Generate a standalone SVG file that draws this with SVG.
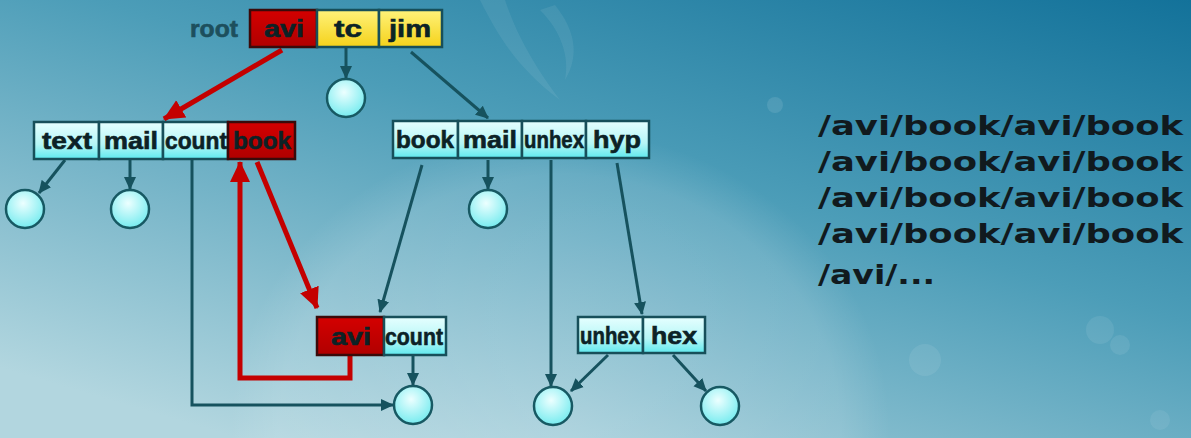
<svg xmlns="http://www.w3.org/2000/svg" width="1191" height="438" viewBox="0 0 1191 438">
<defs>
  <linearGradient id="bg" x1="1" y1="0" x2="0.2" y2="1">
    <stop offset="0" stop-color="#13729a"/>
    <stop offset="0.45" stop-color="#4c9db8"/>
    <stop offset="1" stop-color="#b2d6df"/>
  </linearGradient>
  <radialGradient id="glow" cx="0.5" cy="0.5" r="0.5">
    <stop offset="0" stop-color="#ffffff" stop-opacity="0.22"/>
    <stop offset="0.85" stop-color="#ffffff" stop-opacity="0.12"/>
    <stop offset="1" stop-color="#ffffff" stop-opacity="0"/>
  </radialGradient>
  <linearGradient id="cyan" x1="0" y1="0" x2="0" y2="1">
    <stop offset="0" stop-color="#e6ffff"/>
    <stop offset="0.6" stop-color="#b6f6f6"/>
    <stop offset="1" stop-color="#5fe9ee"/>
  </linearGradient>
  <linearGradient id="red" x1="0" y1="0" x2="0" y2="1">
    <stop offset="0" stop-color="#d40000"/>
    <stop offset="1" stop-color="#b00000"/>
  </linearGradient>
  <linearGradient id="yellow" x1="0" y1="0" x2="0" y2="1">
    <stop offset="0" stop-color="#fff27a"/>
    <stop offset="1" stop-color="#f5d21a"/>
  </linearGradient>
  <radialGradient id="ball" cx="0.45" cy="0.35" r="0.7">
    <stop offset="0" stop-color="#ecffff"/>
    <stop offset="1" stop-color="#6eeaee"/>
  </radialGradient>
  <marker id="ab" markerUnits="userSpaceOnUse" markerWidth="14" markerHeight="14" refX="12" refY="7" orient="auto">
    <path d="M0,1 L13,7 L0,13 z" fill="#16525e"/>
  </marker>
  <marker id="ar" markerUnits="userSpaceOnUse" markerWidth="22" markerHeight="22" refX="20" refY="11" orient="auto">
    <path d="M0,1 L21,11 L0,21 z" fill="#c40000"/>
  </marker>
</defs>
<style>
  .cell { stroke:#174f5a; stroke-width:2.5; }
  .c { fill:url(#cyan); }
  .r { fill:url(#red); stroke:#3a0a0a; }
  .y { fill:url(#yellow); }
  .lbl { font-family:"Liberation Sans", Arial, sans-serif; font-weight:bold; font-size:24px; fill:#0c2226; text-anchor:middle; stroke:#0c2226; stroke-width:0.6; }
  .ball { fill:url(#ball); stroke:#175963; stroke-width:2.5; }
  .bl { fill:none; stroke:#16525e; stroke-width:3; }
  .rd { fill:none; stroke:#c40000; stroke-width:5; }
  .path { font-family:"DejaVu Sans", Verdana, sans-serif; font-weight:bold; font-size:27px; fill:#111a1e; }
</style>

<rect width="1191" height="438" fill="url(#bg)"/>
<ellipse cx="560" cy="430" rx="330" ry="300" fill="url(#glow)"/>
<path d="M480,0 C500,40 520,70 560,100 C530,60 515,30 505,0 z" fill="#ffffff" fill-opacity="0.07"/>
<path d="M540,10 C560,30 570,55 565,80 C580,55 575,30 555,5 z" fill="#ffffff" fill-opacity="0.07"/>
<circle cx="775" cy="105" r="8" fill="#ffffff" fill-opacity="0.1"/>
<circle cx="1100" cy="330" r="14" fill="#ffffff" fill-opacity="0.08"/>
<circle cx="1120" cy="345" r="10" fill="#ffffff" fill-opacity="0.08"/>
<circle cx="925" cy="360" r="16" fill="#ffffff" fill-opacity="0.08"/>
<circle cx="1160" cy="420" r="10" fill="#ffffff" fill-opacity="0.07"/>

<g id="connectors">
  <line class="bl" x1="346" y1="48" x2="346" y2="78" marker-end="url(#ab)"/>
  <line class="bl" x1="411" y1="52" x2="488" y2="118" marker-end="url(#ab)"/>
  <line class="bl" x1="65" y1="160" x2="39" y2="193" marker-end="url(#ab)"/>
  <line class="bl" x1="130" y1="160" x2="130" y2="189" marker-end="url(#ab)"/>
  <polyline class="bl" points="192,160 192,405 393,405" marker-end="url(#ab)"/>
  <line class="bl" x1="413" y1="356" x2="413" y2="385" marker-end="url(#ab)"/>
  <line class="bl" x1="422" y1="165" x2="380" y2="312" marker-end="url(#ab)"/>
  <line class="bl" x1="488" y1="160" x2="488" y2="189" marker-end="url(#ab)"/>
  <line class="bl" x1="551" y1="160" x2="551" y2="386" marker-end="url(#ab)"/>
  <line class="bl" x1="617" y1="163" x2="642" y2="314" marker-end="url(#ab)"/>
  <line class="bl" x1="608" y1="355" x2="571" y2="391" marker-end="url(#ab)"/>
  <line class="bl" x1="673" y1="355" x2="706" y2="391" marker-end="url(#ab)"/>
  <line class="rd" x1="282" y1="50" x2="164" y2="119" marker-end="url(#ar)"/>
  <line class="rd" x1="257" y1="162" x2="317" y2="308" marker-end="url(#ar)"/>
  <polyline class="rd" points="350,356 350,378 240,378 240,162" marker-end="url(#ar)"/>
</g>

<g id="root">
  <text x="214" y="37" textLength="48" lengthAdjust="spacingAndGlyphs" style="font-family:'Liberation Sans', Arial, sans-serif; font-weight:bold; font-size:23px; fill:#1d4f5d; stroke:#1d4f5d; stroke-width:0.6; text-anchor:middle;">root</text>
  <rect class="cell r" x="250" y="10" width="67" height="37"/>
  <rect class="cell y" x="317" y="10" width="62" height="37"/>
  <rect class="cell y" x="379" y="10" width="63" height="37"/>
  <text class="lbl" x="284" y="37" textLength="40" lengthAdjust="spacingAndGlyphs">avi</text>
  <text class="lbl" x="348" y="37" textLength="28" lengthAdjust="spacingAndGlyphs">tc</text>
  <text class="lbl" x="410" y="37" textLength="42" lengthAdjust="spacingAndGlyphs">jim</text>
</g>

<g id="node-left">
  <rect class="cell c" x="34" y="122" width="65" height="37"/>
  <rect class="cell c" x="99" y="122" width="64" height="37"/>
  <rect class="cell c" x="163" y="122" width="65" height="37"/>
  <rect class="cell r" x="228" y="122" width="67" height="37"/>
  <text class="lbl" x="67" y="149" textLength="50" lengthAdjust="spacingAndGlyphs">text</text>
  <text class="lbl" x="131" y="149" textLength="54" lengthAdjust="spacingAndGlyphs">mail</text>
  <text class="lbl" x="196" y="149" textLength="62" lengthAdjust="spacingAndGlyphs">count</text>
  <text class="lbl" x="262" y="149" textLength="58" lengthAdjust="spacingAndGlyphs">book</text>
</g>

<g id="node-mid">
  <rect class="cell c" x="393" y="121" width="65" height="37"/>
  <rect class="cell c" x="458" y="121" width="64" height="37"/>
  <rect class="cell c" x="522" y="121" width="64" height="37"/>
  <rect class="cell c" x="586" y="121" width="63" height="37"/>
  <text class="lbl" x="425" y="148" textLength="58" lengthAdjust="spacingAndGlyphs">book</text>
  <text class="lbl" x="490" y="148" textLength="54" lengthAdjust="spacingAndGlyphs">mail</text>
  <text class="lbl" x="554" y="148" textLength="60" lengthAdjust="spacingAndGlyphs">unhex</text>
  <text class="lbl" x="617" y="148" textLength="48" lengthAdjust="spacingAndGlyphs">hyp</text>
</g>

<g id="node-avi-count">
  <rect class="cell r" x="317" y="317" width="67" height="38"/>
  <rect class="cell c" x="384" y="317" width="62" height="38"/>
  <text class="lbl" x="351" y="345" textLength="40" lengthAdjust="spacingAndGlyphs">avi</text>
  <text class="lbl" x="414" y="345" textLength="58" lengthAdjust="spacingAndGlyphs">count</text>
</g>

<g id="node-unhex-hex">
  <rect class="cell c" x="578" y="317" width="65" height="36"/>
  <rect class="cell c" x="643" y="317" width="62" height="36"/>
  <text class="lbl" x="610" y="344" textLength="60" lengthAdjust="spacingAndGlyphs">unhex</text>
  <text class="lbl" x="674" y="344" textLength="46" lengthAdjust="spacingAndGlyphs">hex</text>
</g>

<g id="leaves">
  <circle class="ball" cx="346" cy="98" r="19"/>
  <circle class="ball" cx="25" cy="209" r="19"/>
  <circle class="ball" cx="130" cy="209" r="19"/>
  <circle class="ball" cx="488" cy="209" r="19"/>
  <circle class="ball" cx="413" cy="405" r="19"/>
  <circle class="ball" cx="553" cy="406" r="19"/>
  <circle class="ball" cx="720" cy="406" r="19"/>
</g>

<g id="paths">
  <text class="path" x="818" y="135" textLength="365" lengthAdjust="spacingAndGlyphs">/avi/book/avi/book</text>
  <text class="path" x="818" y="171" textLength="365" lengthAdjust="spacingAndGlyphs">/avi/book/avi/book</text>
  <text class="path" x="818" y="207" textLength="365" lengthAdjust="spacingAndGlyphs">/avi/book/avi/book</text>
  <text class="path" x="818" y="243" textLength="365" lengthAdjust="spacingAndGlyphs">/avi/book/avi/book</text>
  <text class="path" x="818" y="284" textLength="117" lengthAdjust="spacingAndGlyphs">/avi/...</text>
</g>
</svg>
